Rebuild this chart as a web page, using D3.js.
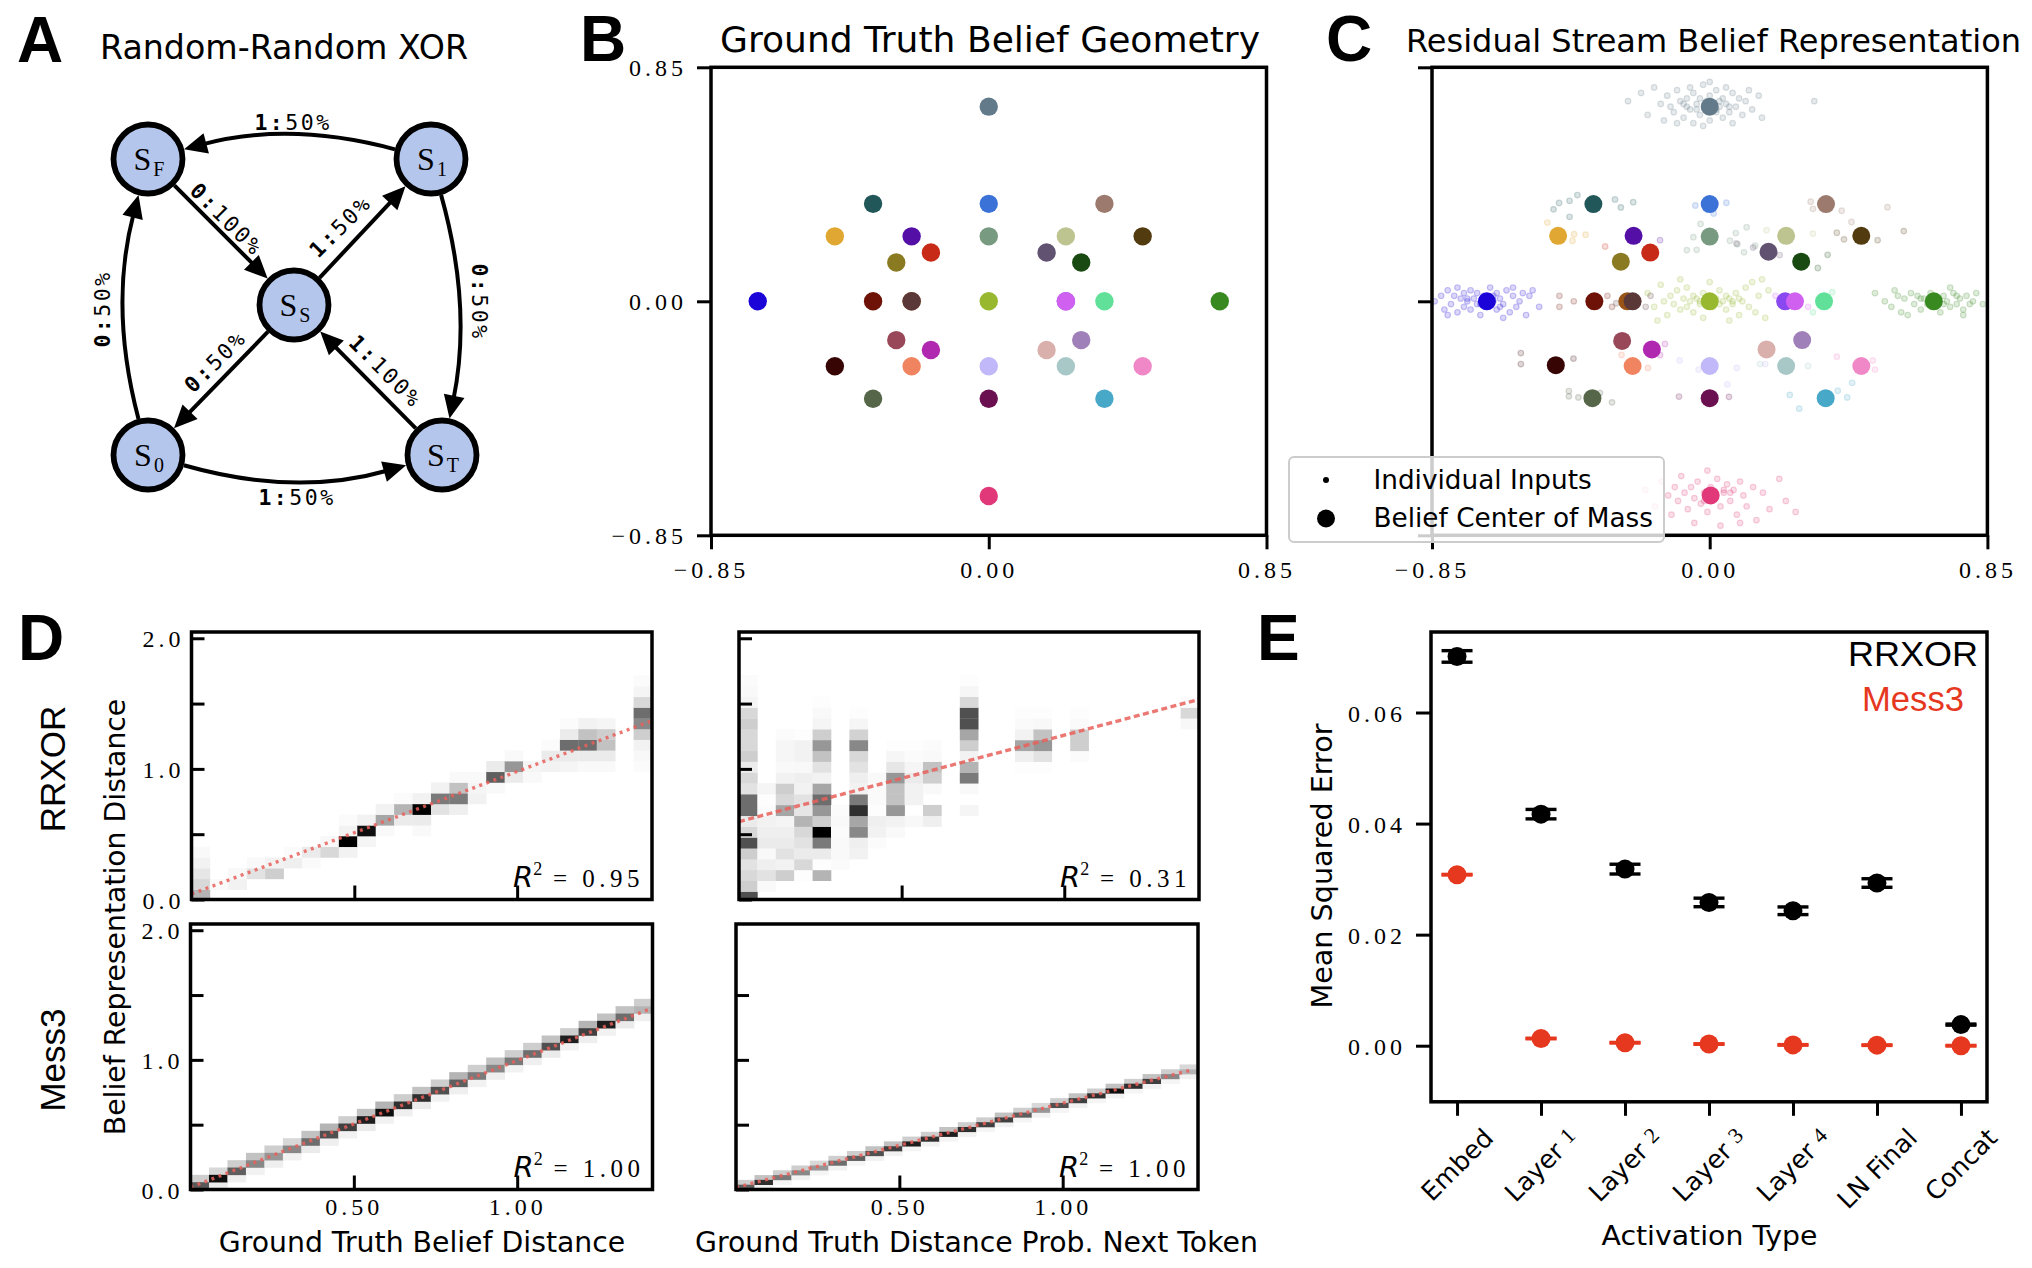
<!DOCTYPE html>
<html>
<head>
<meta charset="utf-8">
<script src="https://cdn.jsdelivr.net/npm/d3@7/dist/d3.min.js"></script>
<style>
  body { margin: 0; background: #fff; }
  svg { display: block; }
</style>
</head>
<body>
<div id="chart"></div>
<script>
var width = 2032;
var height = 1268;

var SANS = "'DejaVu Sans', Verdana, sans-serif";
var ARIAL = "'Liberation Sans', Arial, Helvetica, sans-serif";
var SERIF = "'Liberation Serif', 'Times New Roman', serif";
var MONO = "'DejaVu Sans Mono', monospace";

// ---------- data: panels B and C (belief states) ----------
var beliefColors = ["#637a8a","#22575a","#3a72d8","#9c7a6e","#e0a832","#5410a6","#789a80","#bec490","#533b10",
  "#c82a18","#625272","#8a7a22","#184a12","#1a04d8","#6e1208","#9a5418","#5a3838","#98b830","#8a48f0",
  "#d060f0","#60e098","#388a20","#984858","#a080b8","#b028b0","#dab0ac","#380505","#f08460","#c0b8f8",
  "#a8c8c8","#f088c8","#566648","#6a1050","#48a8c8","#e03878"];
var truthX = [0,-0.354,0,0.354,-0.471,-0.236,0,0.236,0.471,-0.177,0.177,-0.283,0.283,-0.707,-0.354,-0.236,-0.236,0,
  0.236,0.236,0.354,0.707,-0.283,0.283,-0.177,0.177,-0.471,-0.236,0,0.236,0.471,-0.354,0,0.354,0];
var truthY = [0.707,0.354,0.354,0.354,0.236,0.236,0.236,0.236,0.236,0.177,0.177,0.141,0.141,0,0,0,0,0,0,0,0,0,
  -0.141,-0.141,-0.177,-0.177,-0.236,-0.236,-0.236,-0.236,-0.236,-0.354,-0.354,-0.354,-0.707];
var streamX = [0,-0.356,0,0.356,-0.464,-0.233,0,0.234,0.464,-0.182,0.180,-0.272,0.280,-0.682,-0.353,-0.252,-0.236,0,
  0.231,0.261,0.350,0.686,-0.268,0.283,-0.177,0.174,-0.471,-0.236,0,0.234,0.464,-0.359,0,0.355,0.003];
var streamY = [0.707,0.353,0.353,0.353,0.238,0.238,0.235,0.238,0.238,0.177,0.180,0.144,0.144,0,0,0,0,0,0,0,0,0,
  -0.144,-0.141,-0.175,-0.175,-0.232,-0.235,-0.235,-0.235,-0.235,-0.352,-0.352,-0.352,-0.705];

// individual inputs, offsets from their belief centre in panel C
var topCloud = [[-0.25,0.02],[-0.21,0.05],[-0.19,-0.03],[-0.17,0.07],[-0.15,0.01],[-0.14,-0.05],[-0.13,0.04],[-0.12,0.0],
  [-0.11,-0.02],[-0.10,0.06],[-0.09,0.02],[-0.08,-0.04],[-0.08,0.01],[-0.07,0.03],[-0.06,-0.01],[-0.05,0.05],[-0.05,-0.06],
  [-0.04,0.01],[-0.03,-0.03],[-0.03,0.03],[-0.02,0.08],[-0.01,-0.01],[0.0,0.04],[0.0,-0.05],[0.01,0.01],[0.02,-0.02],
  [0.02,0.06],[0.03,0.0],[0.04,-0.04],[0.04,0.03],[0.05,0.01],[0.06,-0.02],[0.07,0.05],[0.07,-0.06],[0.08,0.0],[0.09,0.03],
  [0.10,-0.03],[0.11,0.02],[0.12,0.06],[0.13,-0.01],[0.15,0.04],[0.16,-0.04],[0.32,0.02],[-0.06,0.07],[0.05,0.07],
  [-0.10,-0.06],[0.0,0.09],[-0.02,-0.07],[-0.04,-0.01],[0.03,0.02],[-0.07,0.0],[0.06,0.0],[-0.01,0.02],[0.02,-0.01]];
var leftCloud = [[-0.16,0.0],[-0.14,0.02],[-0.13,-0.03],[-0.12,0.04],[-0.11,-0.01],[-0.10,0.02],[-0.09,-0.04],[-0.08,0.01],
  [-0.07,0.03],[-0.07,-0.02],[-0.06,0.0],[-0.05,0.04],[-0.05,-0.03],[-0.04,0.01],[-0.03,-0.01],[-0.03,0.03],[-0.02,-0.05],
  [-0.01,0.02],[0.0,-0.02],[0.01,0.05],[0.02,0.0],[0.03,-0.03],[0.03,0.03],[0.04,0.01],[0.05,-0.01],[0.06,0.04],
  [0.07,-0.04],[0.08,0.02],[0.09,-0.02],[0.10,0.0],[0.11,0.03],[0.12,-0.05],[0.13,0.02],[0.14,0.04],[0.16,-0.02],
  [-0.09,0.05],[0.05,-0.06],[-0.12,-0.05],[0.08,0.05],[-0.06,0.01],[0.02,0.02],[-0.02,-0.01],[0.04,-0.02]];
var middleCloud = [[-0.19,0.03],[-0.17,-0.02],[-0.15,0.06],[-0.14,0.0],[-0.13,-0.05],[-0.12,0.02],[-0.11,-0.01],[-0.10,0.04],
  [-0.09,-0.03],[-0.08,0.01],[-0.07,0.05],[-0.07,-0.02],[-0.06,0.0],[-0.05,0.02],[-0.05,-0.04],[-0.04,0.01],[-0.03,-0.01],
  [-0.02,0.03],[-0.02,-0.06],[-0.01,0.0],[0.0,0.07],[0.01,-0.02],[0.02,0.01],[0.03,-0.01],[0.03,0.04],[0.04,0.0],
  [0.05,-0.03],[0.05,0.02],[0.06,0.01],[0.07,-0.01],[0.08,0.03],[0.09,-0.05],[0.10,0.0],[0.11,0.05],[0.12,-0.02],
  [0.13,0.07],[0.14,-0.04],[0.15,0.02],[0.16,0.08],[0.17,-0.06],[0.18,0.04],[-0.16,-0.07],[0.06,-0.07],[-0.09,0.08],
  [0.07,0.0],[0.09,0.01],[-0.03,0.0],[0.01,0.01]];
var rightCloud = [[-0.18,0.03],[-0.15,0.0],[-0.13,-0.02],[-0.11,0.02],[-0.10,-0.04],[-0.09,0.01],[-0.07,0.03],[-0.06,-0.01],
  [-0.05,0.02],[-0.04,-0.03],[-0.03,0.01],[-0.02,-0.01],[-0.01,0.03],[0.0,-0.02],[0.01,0.01],[0.02,-0.04],[0.03,0.02],
  [0.04,0.0],[0.05,-0.02],[0.06,0.03],[0.07,-0.01],[0.08,0.01],[0.09,-0.03],[0.10,0.02],[0.11,-0.01],[0.12,0.0],
  [0.13,0.03],[0.15,-0.01],[-0.08,-0.05],[0.05,0.05],[0.09,-0.05],[-0.12,0.04],[-0.04,0.01],[0.03,-0.01],[0.07,0.02]];
var bottomCloud = [[-0.20,0.02],[-0.17,-0.04],[-0.15,0.05],[-0.13,0.0],[-0.12,-0.07],[-0.11,0.03],[-0.10,-0.02],[-0.09,0.07],
  [-0.08,0.01],[-0.07,-0.05],[-0.06,0.03],[-0.05,-0.01],[-0.04,0.05],[-0.03,-0.03],[-0.02,0.01],[-0.01,-0.06],[0.0,0.03],
  [0.01,-0.01],[0.02,0.06],[0.03,-0.04],[0.04,0.01],[0.05,0.04],[0.06,-0.02],[0.07,0.02],[0.08,-0.07],[0.09,0.05],
  [0.10,0.0],[0.11,-0.04],[0.13,0.03],[0.14,-0.09],[0.16,0.01],[0.18,-0.05],[0.21,0.06],[0.23,-0.02],[0.26,-0.06],
  [-0.05,-0.10],[0.03,-0.11],[-0.01,0.09],[0.09,-0.10],[0.04,0.02],[0.06,0.01],[-0.02,-0.02]];
// [belief index, dx, dy]
var sparseInputs = [[1,-0.122,-0.019],[1,-0.105,0.004],[1,-0.073,0.012],[1,-0.049,0.033],[1,-0.073,-0.046],[1,0.066,0.017],
  [1,0.084,-0.012],[1,0.122,0.007],[2,-0.044,-0.005],[2,0.051,0.005],[2,0.012,-0.034],[4,-0.033,0.048],[4,0.049,0.006],
  [4,0.084,0.004],[4,0.044,-0.018],[9,-0.138,0.022],[6,-0.05,-0.002],[6,-0.04,-0.048],[6,-0.07,-0.049],[6,-0.028,0.046],
  [6,0.062,-0.015],[6,0.085,-0.028],[6,0.105,-0.057],[6,0.08,0.013],[6,0.113,0.034],[6,0.139,-0.033],[3,-0.047,0.009],
  [3,-0.040,-0.017],[3,0.048,-0.024],[3,0.078,-0.065],[3,0.188,-0.011],[7,0.082,0.008],[7,-0.06,0.02],[8,-0.075,0.011],
  [8,-0.053,-0.013],[8,0.05,-0.016],[8,0.13,0.017],[10,-0.098,0.03],[10,-0.047,0.015],[10,0.034,-0.012],[12,0.081,0.025],
  [12,0.051,-0.023],[5,0.081,-0.016],[14,-0.107,0.02],[14,-0.107,-0.02],[14,-0.063,0.0],[14,0.04,0.02],[14,0.054,-0.02],
  [16,-0.05,-0.007],[16,0.04,-0.02],[16,0.055,0.02],[19,-0.06,0.02],[19,0.04,-0.02],[20,-0.034,-0.04],[20,0.025,0.033],
  [24,0.04,0.02],[24,0.025,-0.02],[26,-0.107,0.044],[26,-0.107,0.004],[26,0.054,0.024],[27,0.047,-0.007],[27,-0.034,0.04],
  [28,-0.092,0.02],[28,-0.034,-0.013],[28,0.083,-0.007],[28,0.17,0.007],[28,0.054,-0.067],[29,-0.08,0.007],[29,0.067,0.0],
  [30,-0.075,0.034],[30,0.035,0.02],[30,0.042,-0.013],[31,-0.072,0.026],[31,-0.072,0.007],[31,-0.043,0.003],[31,0.023,0.019],
  [31,0.06,-0.015],[32,-0.094,0.006],[32,0.059,0.005],[33,-0.11,0.012],[33,-0.081,-0.038],[33,0.037,0.027],[33,0.066,0.003],
  [33,0.081,0.056]];
var axisTicksBC = [-0.85, 0, 0.85];

// ---------- data: panel D (2D histograms, [column, first row, shades upward]) ----------
var distTicksX = [0.5, 1.0];
var distTicksY = [0, 0.5, 1.0, 1.5, 2.0];
var rrxorBeliefBins = [0.05657, -0.006, 0.082];
var rrxorBeliefCols = [[0,0,[.4,.25,.18,.1,.05]],[1,1,[.04]],[2,1,[.1,.06]],[3,2,[.2,.05]],[4,2,[.3,.1]],[5,3,[.12,.03]],
  [6,3,[.04,.15]],[7,4,[.25,.06]],[8,4,[.1,1,.1,.03]],[9,5,[.08,.95,.1]],[10,6,[.05,.45,.1]],[11,7,[.15,.4,.03]],
  [12,6,[.05,.15,1,.1]],[13,8,[.2,.6,.1]],[14,8,[.12,.6,.35,.05]],[15,9,[.1,.08,.05]],[16,10,[.05,.7,.15]],
  [17,11,[.15,.5,.05]],[18,11,[.05,.08]],[19,12,[.1,.15,.03]],[20,12,[.08,.15,.65,.15,.03]],[21,12,[.05,.15,.65,.35,.1]],
  [22,12,[.05,.15,.35,.3,.08]],[24,12,[.03,.06,.1,.3,.55,.65,.25,.08,.03]]];
var rrxorTokenBins = [0.05657, -0.022, 0.0829];
var rrxorTokenCols = [[0,0,[.75,.3,.25,.2,.3,.75,.25,.15,.65,.65,.2,.25,.15,.3,.25,.25,.3,.25,.08,.05,.03]],
  [1,1,[.05,.2,.12,.05,.15,.12,.1,.03,.02,.08]],[2,2,[.3,.1,.2,.15,.12,.08,.45,.25,.3,.1,.05,.07,.07,.03]],
  [3,2,[.02,.25,.15,.2,.25,.4,.18,.2,.1,.12,.06,.1,.1,.02]],[4,2,[.4,.02,.15,.6,1,.3,.5,.65,.45,.1,.2,.35,.5,.3,.08,.05,.02]],
  [5,3,[.03,.05,.05,.03,.05,.03]],[6,4,[.1,.12,.55,.45,.85,.6,.1,.12,.2,.25,.55,.28,.07,.02]],[7,5,[.03,.1,.12,.02,.04,.04,.05]],
  [8,6,[.05,.1,.5,.35,.35,.5,.18,.07,.02]],[9,7,[.06,0,.1,.1,.15,.08,.03,.02]],[10,7,[.12,.3,0,.05,.3,.35,.05,.03]],
  [12,8,[.08,0,.05,.6,.4,.1,.3,.45,.75,.75,.25,.07,.02]],[15,12,[.02,.12,.45,.1,.04,.02]],[16,12,[.02,.2,.5,.35,.06,.02]],
  [18,13,[.03,.3,.3,.04,.02]],[24,16,[.06,.25,.03]]];
var mess3BeliefBins = [0.05657, 0, 0.05657];
var mess3BeliefMain = [.72,.95,.7,.55,.5,.55,.65,.75,.8,.9,.95,.85,.85,.75,.7,.6,.55,.6,.65,.75,.9,.8,.9,.65,.4];
var mess3BeliefAbove = [.3,.25,.3,.35,.3,.25,.35,.4,.3,.35,.4,.3,.35,.3,.4,.3,.35,.3,.3,.35,.3,.4,.35,.35,.3];
var mess3BeliefBelow = [0,.15,.12,.1,.12,.1,.15,.12,.1,.15,.1,.12,.15,.1,.12,.1,.12,.1,.12,.15,.1,.12,.1,.15,.12];
var mess3TokenBins = [0.05657, 0, 0.0371];
var mess3TokenMain = [.7,.85,.6,.55,.5,.65,.7,.75,.8,.9,.85,.9,.85,.8,.8,.7,.5,.75,.8,.85,.95,.85,.8,.55,.4];
var mess3TokenAbove = [.3,.35,.3,.3,.25,.3,.3,.35,.35,.3,.3,.35,.3,.3,.35,.3,.25,.3,.35,.3,.35,.3,.35,.3,.25];
var mess3TokenBelow = [0,.1,.08,.1,.08,.1,.08,.1,.1,.08,.1,.08,.1,.08,.1,.08,.1,.08,.1,.08,.1,.08,.1,.08,.1];
var fitLines = [[[0,0.042],[1.409,1.364]], [[0,0.596],[1.414,1.532]], [[0,0.017],[1.40,1.386]], [[0,0.016],[1.392,0.92]]];
var r2Values = ["0.95", "0.31", "1.00", "1.00"];

// ---------- data: panel E ----------
var activationTypes = ["Embed","Layer 1","Layer 2","Layer 3","Layer 4","LN Final","Concat"];
var rrxorMSE = [0.0701,0.0417,0.0318,0.0258,0.0243,0.0293,0.0038];
var rrxorErr = [0.00104,0.00085,0.00088,0.00077,0.00069,0.00077,0.0001];
var mess3MSE = [0.0308,0.0013,0.00054,0.0003,0.00015,0.0001,0.0];
var mess3Err = [0.00005,0.00005,0.00005,0.00005,0.00005,0.00005,0.00005];
var mseTicks = [0, 0.02, 0.04, 0.06];

var svg = d3.select("#chart").append("svg")
  .attr("width", width).attr("height", height)
  .attr("viewBox", `0 0 ${width} ${height}`);
svg.append("rect").attr("width", width).attr("height", height).attr("fill", "white");

function frame(g, x0, y0, x1, y1) {
  g.append("rect").attr("x", x0).attr("y", y0).attr("width", x1 - x0).attr("height", y1 - y0)
    .attr("fill", "none").attr("stroke", "black").attr("stroke-width", 3.5);
}

function drawAxis(g, axis, tx, ty, fontSize) {
  var a = g.append("g").attr("transform", "translate(" + tx + "," + ty + ")").call(axis);
  a.select(".domain").remove();
  a.selectAll(".tick line").attr("stroke", "black").attr("stroke-width", 3);
  a.selectAll(".tick text").attr("font-family", SERIF).attr("font-size", fontSize)
    .attr("letter-spacing", 4).attr("fill", "black");
  return a;
}

// panel letters
[["A", 17, 62], ["B", 580, 61], ["C", 1326, 61], ["D", 18, 660], ["E", 1257, 660]].forEach(function (p) {
  svg.append("text").attr("x", p[1]).attr("y", p[2]).attr("font-family", ARIAL).attr("font-weight", "bold")
    .attr("font-size", 64).text(p[0]);
});

// ================= Panel A =================
var gA = svg.append("g");
gA.append("text").attr("x", 100).attr("y", 58.5).attr("font-family", SANS).attr("font-size", 33)
  .attr("textLength", 368).attr("lengthAdjust", "spacingAndGlyphs").text("Random-Random XOR");

var nodesA = [
  {id: "F", x: 148, y: 159}, {id: "1", x: 431, y: 159}, {id: "S", x: 294, y: 305},
  {id: "0", x: 148, y: 455}, {id: "T", x: 442, y: 455}
];
var nodeById = {};
nodesA.forEach(function (n) { nodeById[n.id] = n; });
var nodeR = 34.5;
var edgesA = [
  {from: "1", to: "F", bend: [0, -38], tok: "1:", pct: "50%", lx: 293, ly: 122, rot: 0},
  {from: "F", to: "S", bend: [0, 0], tok: "0:", pct: "100%", lx: 227, ly: 219, rot: 45},
  {from: "S", to: "1", bend: [0, 0], tok: "1:", pct: "50%", lx: 340, ly: 226, rot: -45},
  {from: "S", to: "0", bend: [0, 0], tok: "0:", pct: "50%", lx: 215, ly: 361, rot: -45},
  {from: "T", to: "S", bend: [0, 0], tok: "1:", pct: "100%", lx: 386, ly: 371, rot: 45},
  {from: "0", to: "F", bend: [-39, 0], tok: "0:", pct: "50%", lx: 102, ly: 309, rot: -90},
  {from: "1", to: "T", bend: [36, 0], tok: "0:", pct: "50%", lx: 480, ly: 302, rot: 90},
  {from: "0", to: "T", bend: [0, 42], tok: "1:", pct: "50%", lx: 297, ly: 497, rot: 0}
];

edgesA.forEach(function (e) {
  var s = nodeById[e.from], t = nodeById[e.to];
  var cx = (s.x + t.x) / 2 + e.bend[0], cy = (s.y + t.y) / 2 + e.bend[1];
  var rOut = nodeR + 2.8;
  var a0 = Math.atan2(cy - s.y, cx - s.x), a1 = Math.atan2(cy - t.y, cx - t.x);
  var p0 = [s.x + rOut * Math.cos(a0), s.y + rOut * Math.sin(a0)];
  var p1 = [t.x + rOut * Math.cos(a1), t.y + rOut * Math.sin(a1)];
  var ux = p1[0] - cx, uy = p1[1] - cy, len = Math.hypot(ux, uy);
  ux /= len; uy /= len;
  var ah = 23, aw = 10.5;
  var pe = [p1[0] - ux * (ah - 4), p1[1] - uy * (ah - 4)];
  gA.append("path")
    .attr("d", "M" + p0[0] + "," + p0[1] + " Q" + cx + "," + cy + " " + pe[0] + "," + pe[1])
    .attr("fill", "none").attr("stroke", "black").attr("stroke-width", 4);
  var bx = p1[0] - ux * ah, by = p1[1] - uy * ah;
  gA.append("path")
    .attr("d", "M" + p1[0] + "," + p1[1] + " L" + (bx - uy * aw) + "," + (by + ux * aw) +
      " L" + (bx + uy * aw) + "," + (by - ux * aw) + " Z")
    .attr("fill", "black");
  var lab = gA.append("text").attr("font-family", MONO).attr("font-size", 21.5).attr("letter-spacing", 2.5)
    .attr("text-anchor", "middle").attr("dominant-baseline", "central")
    .attr("transform", "translate(" + e.lx + "," + e.ly + ") rotate(" + e.rot + ")");
  lab.append("tspan").attr("font-weight", "bold").text(e.tok);
  lab.append("tspan").text(e.pct);
});

nodesA.forEach(function (n) {
  gA.append("circle").attr("cx", n.x).attr("cy", n.y).attr("r", nodeR)
    .attr("fill", "#b4c6ec").attr("stroke", "black").attr("stroke-width", 5.8);
  var t = gA.append("text").attr("x", n.x + 1).attr("y", n.y + 11).attr("text-anchor", "middle")
    .attr("font-family", SERIF).attr("font-size", 32);
  t.append("tspan").text("S");
  t.append("tspan").attr("font-size", 20).attr("dy", 6).attr("dx", 2).text(n.id);
});

// ================= Panel B =================
var gB = svg.append("g");
gB.append("text").attr("x", 720).attr("y", 52).attr("font-family", SANS).attr("font-size", 35.6)
  .attr("textLength", 540).attr("lengthAdjust", "spacingAndGlyphs").text("Ground Truth Belief Geometry");
var xB = d3.scaleLinear().domain([-0.85, 0.85]).range([711, 1266.5]);
var yB = d3.scaleLinear().domain([-0.85, 0.85]).range([535.3, 67.3]);
drawAxis(gB, d3.axisLeft(yB).tickValues(axisTicksBC).tickFormat(d3.format(".2f")).tickSize(14).tickPadding(10), 711, 0, 24)
  .selectAll(".tick text").attr("dy", "0.36em");
drawAxis(gB, d3.axisBottom(xB).tickValues(axisTicksBC).tickFormat(d3.format(".2f")).tickSize(14).tickPadding(12), 0, 535.3, 24);
gB.selectAll("circle.belief")
  .data(d3.range(beliefColors.length))
  .enter().append("circle").attr("class", "belief")
  .attr("cx", function (i) { return xB(truthX[i]); })
  .attr("cy", function (i) { return yB(truthY[i]); })
  .attr("r", 9.2)
  .attr("fill", function (i) { return beliefColors[i]; });
frame(gB, 711, 67.3, 1266.5, 535.3);

// ================= Panel C =================
var gC = svg.append("g");
gC.append("text").attr("x", 1406).attr("y", 52).attr("font-family", SANS).attr("font-size", 32)
  .attr("textLength", 615).attr("lengthAdjust", "spacingAndGlyphs").text("Residual Stream Belief Representation");
var xC = d3.scaleLinear().domain([-0.85, 0.85]).range([1432, 1987.4]);
drawAxis(gC, d3.axisLeft(yB).tickValues(axisTicksBC).tickFormat("").tickSize(14), 1432, 0, 24);
drawAxis(gC, d3.axisBottom(xC).tickValues(axisTicksBC).tickFormat(d3.format(".2f")).tickSize(14).tickPadding(12), 0, 535.3, 24);

var inputs = [];
[[topCloud, 0], [leftCloud, 13], [middleCloud, 17], [rightCloud, 21], [bottomCloud, 34]].forEach(function (cl) {
  cl[0].forEach(function (o) { inputs.push({x: streamX[cl[1]] + o[0], y: streamY[cl[1]] + o[1], c: beliefColors[cl[1]]}); });
});
sparseInputs.forEach(function (o) {
  inputs.push({x: streamX[o[0]] + o[1], y: streamY[o[0]] + o[2], c: beliefColors[o[0]]});
});
gC.selectAll("circle.input").data(inputs).enter().append("circle").attr("class", "input")
  .attr("cx", function (d) { return xC(d.x); })
  .attr("cy", function (d) { return yB(d.y); })
  .attr("r", 2.8)
  .attr("fill", function (d) { return d.c; }).attr("fill-opacity", 0.16)
  .attr("stroke", function (d) { return d.c; }).attr("stroke-opacity", 0.22).attr("stroke-width", 1.2);
gC.selectAll("circle.belief")
  .data(d3.range(beliefColors.length))
  .enter().append("circle").attr("class", "belief")
  .attr("cx", function (i) { return xC(streamX[i]); })
  .attr("cy", function (i) { return yB(streamY[i]); })
  .attr("r", 9)
  .attr("fill", function (i) { return beliefColors[i]; });
frame(gC, 1432, 67.3, 1987.4, 535.3);

var legC = gC.append("g");
legC.append("rect").attr("x", 1289).attr("y", 457).attr("width", 375).attr("height", 85).attr("rx", 5)
  .attr("fill", "white").attr("fill-opacity", 0.8).attr("stroke", "#cccccc").attr("stroke-width", 2);
legC.append("circle").attr("cx", 1326).attr("cy", 480).attr("r", 3).attr("fill", "black");
legC.append("circle").attr("cx", 1326).attr("cy", 518.5).attr("r", 9).attr("fill", "black");
legC.append("text").attr("x", 1373.5).attr("y", 488.5).attr("font-family", SANS).attr("font-size", 26.3).text("Individual Inputs");
legC.append("text").attr("x", 1373.5).attr("y", 526.5).attr("font-family", SANS).attr("font-size", 26.3).text("Belief Center of Mass");

// ================= Panel D =================
var gD = svg.append("g");
var greys = d3.scaleSequential(d3.interpolateGreys).domain([0, 1]);
var subplots = [
  {x0: 191.5, x1: 652, y0: 632, y1: 899.5, bins: rrxorBeliefBins, cols: rrxorBeliefCols, fit: 0, dash: "3,4.5", yl: true, xl: false},
  {x0: 739, x1: 1199, y0: 632, y1: 899.5, bins: rrxorTokenBins, cols: rrxorTokenCols, fit: 1, dash: "6,3.5", yl: false, xl: false},
  {x0: 190.5, x1: 652.5, y0: 924, y1: 1189.5, bins: mess3BeliefBins, stair: [mess3BeliefMain, mess3BeliefAbove, mess3BeliefBelow], fit: 2, dash: "3,4.5", yl: true, xl: true},
  {x0: 736, x1: 1198, y0: 924, y1: 1189.5, bins: mess3TokenBins, stair: [mess3TokenMain, mess3TokenAbove, mess3TokenBelow], fit: 3, dash: "3,4.5", yl: false, xl: true}
];

subplots.forEach(function (sp, k) {
  var x = d3.scaleLinear().domain([0, 1.4142]).range([sp.x0, sp.x1]);
  var y = d3.scaleLinear().domain([0, 2.048]).range([sp.y1, sp.y0]);
  var g = gD.append("g");
  g.append("clipPath").attr("id", "clipD" + k).append("rect")
    .attr("x", sp.x0).attr("y", sp.y0).attr("width", sp.x1 - sp.x0).attr("height", sp.y1 - sp.y0);
  var cells = [];
  if (sp.cols) {
    sp.cols.forEach(function (c) {
      c[2].forEach(function (v, i) { cells.push({c: c[0], r: c[1] + i, v: v}); });
    });
  } else {
    sp.stair[0].forEach(function (v, c) {
      if (sp.stair[1][c] > 0) cells.push({c: c, r: c + 1, v: sp.stair[1][c]});
      if (sp.stair[2][c] > 0 && c > 0) cells.push({c: c, r: c - 1, v: sp.stair[2][c]});
      cells.push({c: c, r: c, v: v});
    });
  }
  var bw = sp.bins[0], by0 = sp.bins[1], bh = sp.bins[2];
  g.append("g").attr("clip-path", "url(#clipD" + k + ")")
    .selectAll("rect").data(cells.filter(function (d) { return d.v > 0; })).enter().append("rect")
    .attr("x", function (d) { return x(d.c * bw); })
    .attr("y", function (d) { return y(by0 + (d.r + 1) * bh); })
    .attr("width", x(bw) - x(0) + 0.3)
    .attr("height", y(0) - y(bh) + 0.3)
    .attr("fill", function (d) { return greys(d.v); });
  var fl = fitLines[sp.fit];
  g.append("path").attr("clip-path", "url(#clipD" + k + ")")
    .attr("d", d3.line().x(function (p) { return x(p[0]); }).y(function (p) { return y(p[1]); })(fl))
    .attr("fill", "none").attr("stroke", "#e8605a").attr("stroke-opacity", 0.85)
    .attr("stroke-width", 3.4).attr("stroke-dasharray", sp.dash);

  var yTicks = k === 3 ? distTicksY.slice(0, 4) : distTicksY;
  drawAxis(g, d3.axisLeft(y).tickValues(yTicks).tickSize(-13).tickPadding(7)
    .tickFormat(function (d) { return sp.yl && d % 1 === 0 ? d3.format(".1f")(d) : ""; }), sp.x0, 0, 24)
    .selectAll(".tick text").attr("dy", "0.36em");
  drawAxis(g, d3.axisBottom(x).tickValues(distTicksX).tickSize(-14).tickPadding(8)
    .tickFormat(function (d) { return sp.xl ? d3.format(".2f")(d) : ""; }), 0, sp.y1, 24);
  frame(g, sp.x0, sp.y0, sp.x1, sp.y1);

  var r2 = g.append("text").attr("x", sp.x1 - 8).attr("y", sp.y1 - 13).attr("text-anchor", "end");
  r2.append("tspan").attr("font-family", SANS).attr("font-style", "italic").attr("font-size", 29).text("R");
  r2.append("tspan").attr("font-family", SERIF).attr("font-size", 18).attr("dy", -12).text("2");
  r2.append("tspan").attr("font-family", SERIF).attr("font-size", 25).attr("dy", 12).attr("letter-spacing", 4.5)
    .text(" = " + r2Values[k]);
});

gD.append("text").attr("transform", "translate(64.5,769) rotate(-90)").attr("text-anchor", "middle")
  .attr("font-family", ARIAL).attr("font-size", 35).text("RRXOR");
gD.append("text").attr("transform", "translate(64.5,1060) rotate(-90)").attr("text-anchor", "middle")
  .attr("font-family", ARIAL).attr("font-size", 35).text("Mess3");
gD.append("text").attr("transform", "translate(124.5,917) rotate(-90)").attr("text-anchor", "middle")
  .attr("font-family", SANS).attr("font-size", 28.3).text("Belief Representation Distance");
gD.append("text").attr("x", 422).attr("y", 1252).attr("text-anchor", "middle")
  .attr("font-family", SANS).attr("font-size", 28.3).text("Ground Truth Belief Distance");
gD.append("text").attr("x", 976.5).attr("y", 1252).attr("text-anchor", "middle")
  .attr("font-family", SANS).attr("font-size", 28.3).text("Ground Truth Distance Prob. Next Token");

// ================= Panel E =================
var gE = svg.append("g");
var xE = d3.scalePoint().domain(activationTypes).range([1431, 1987]).padding(0.31);
var yE = d3.scaleLinear().domain([-0.0101, 0.0745]).range([1101.8, 632]);
drawAxis(gE, d3.axisLeft(yE).tickValues(mseTicks).tickFormat(d3.format(".2f")).tickSize(15).tickPadding(10), 1431, 0, 24)
  .selectAll(".tick text").attr("dy", "0.36em");
drawAxis(gE, d3.axisBottom(xE).tickSize(14).tickFormat(""), 0, 1101.8, 24);

activationTypes.forEach(function (cat) {
  var lbl = gE.append("text").attr("font-family", SANS).attr("font-size", 25.5)
    .attr("text-anchor", "middle").attr("dominant-baseline", "central");
  var m = cat.match(/^Layer (\d)$/);
  if (m) {
    lbl.append("tspan").text("Layer ");
    lbl.append("tspan").attr("font-family", SERIF).attr("font-size", 22).attr("dy", -3).text(m[1]);
  } else {
    lbl.text(cat);
  }
  var L = lbl.node().getComputedTextLength();
  var half = (L + 25.5 * 0.9) * Math.SQRT1_2 / 2;
  lbl.attr("transform", "translate(" + xE(cat) + "," + (1125 + half) + ") rotate(-45)");
});

function drawSeries(values, errs, color) {
  var s = gE.append("g");
  activationTypes.forEach(function (cat, i) {
    var cx = xE(cat);
    [values[i] - errs[i], values[i] + errs[i]].forEach(function (v) {
      s.append("line").attr("x1", cx - 15.5).attr("x2", cx + 15.5).attr("y1", yE(v)).attr("y2", yE(v))
        .attr("stroke", color).attr("stroke-width", 3.4);
    });
  });
  s.selectAll("circle").data(values).enter().append("circle")
    .attr("cx", function (d, i) { return xE(activationTypes[i]); })
    .attr("cy", function (d) { return yE(d); })
    .attr("r", 9.5).attr("fill", color);
}
drawSeries(mess3MSE, mess3Err, "#e6371f");
drawSeries(rrxorMSE, rrxorErr, "black");
frame(gE, 1431, 632, 1987, 1101.8);

gE.append("text").attr("x", 1978).attr("y", 666).attr("text-anchor", "end").attr("font-family", ARIAL)
  .attr("font-size", 35).attr("textLength", 130).attr("lengthAdjust", "spacingAndGlyphs").text("RRXOR");
gE.append("text").attr("x", 1964).attr("y", 711).attr("text-anchor", "end").attr("font-family", ARIAL)
  .attr("font-size", 35).attr("fill", "#e6371f").attr("textLength", 102).attr("lengthAdjust", "spacingAndGlyphs").text("Mess3");
gE.append("text").attr("transform", "translate(1332,866) rotate(-90)").attr("text-anchor", "middle")
  .attr("font-family", SANS).attr("font-size", 28).attr("textLength", 285).attr("lengthAdjust", "spacingAndGlyphs")
  .text("Mean Squared Error");
gE.append("text").attr("x", 1709.5).attr("y", 1245).attr("text-anchor", "middle")
  .attr("font-family", SANS).attr("font-size", 26).attr("textLength", 216).attr("lengthAdjust", "spacingAndGlyphs")
  .text("Activation Type");
</script>
</body>
</html>
